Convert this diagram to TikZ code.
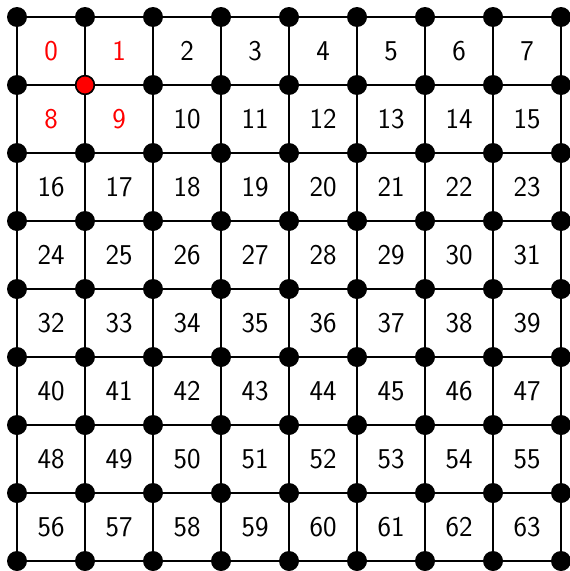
\documentclass[tikz,border=0pt]{standalone}
\begin{document}
\begin{tikzpicture}[x=0.75pt,y=-0.75pt,
  gridline/.style={line width=1.6pt,black},
  vdot/.style={circle,fill=black,inner sep=0pt,minimum size=15pt},
  rdot/.style={circle,fill=red,draw=black,line width=1.2pt,inner sep=0pt,minimum size=14pt},
  lbl/.style={font=\fontsize{21.5}{25}\selectfont\sffamily,text=black},
  rlbl/.style={font=\fontsize{21.5}{25}\selectfont\sffamily,text=red}]
\useasboundingbox (0,0) rectangle (570,571);
\foreach \i in {0,...,8}{
  \draw[gridline] (17+68*\i,17) -- (17+68*\i,561);
  \draw[gridline] (17,17+68*\i) -- (561,17+68*\i);
}
\foreach \r in {0,...,7}{
  \foreach \c in {0,...,7}{
    \pgfmathtruncatemacro{\n}{8*\r+\c}
    \ifnum\n=0 \def\sty{rlbl}\else\ifnum\n=1 \def\sty{rlbl}\else\ifnum\n=8 \def\sty{rlbl}\else\ifnum\n=9 \def\sty{rlbl}\else\def\sty{lbl}\fi\fi\fi\fi
    \node[\sty] (c\n) at (51+68*\c,51+68*\r) {\n};
  }
}
\foreach \r in {0,...,8}{
  \foreach \c in {0,...,8}{
    \node[vdot] (v\r-\c) at (17+68*\c,17+68*\r) {};
  }
}
\node[rdot] (red) at (85,85) {};
\end{tikzpicture}
\end{document}
